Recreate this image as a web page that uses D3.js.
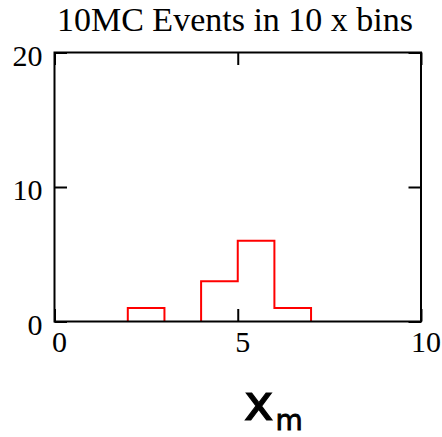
<!DOCTYPE html>
<html>
<head>
<meta charset="utf-8">
<script src="https://cdn.jsdelivr.net/npm/d3@7"></script>
<style>
  html, body { margin: 0; padding: 0; background: #fff; }
  svg { display: block; }
</style>
</head>
<body>
<script>
// Histogram of 10 Monte Carlo events in 10 unit-wide x bins
const binEdges = [0, 1, 2, 3, 4, 5, 6, 7, 8, 9, 10];
const binCounts = [0, 0, 1, 0, 3, 6, 1, 0, 0, 0];
const xTicks = [0, 5, 10];
const yTicks = [0, 10, 20];
const titleText = "10MC Events in 10 x bins";

const W = 442, H = 437;
const plotLeft = 54.5, plotRight = 421, plotTop = 52.5, plotBottom = 321.5;

const svg = d3.select("body").append("svg")
  .attr("width", W).attr("height", H);

const x = d3.scaleLinear().domain([0, 10]).range([plotLeft, plotRight]);
const y = d3.scaleLinear().domain([0, 20]).range([plotBottom, plotTop]);

const serif = "'Liberation Serif', 'Times New Roman', serif";
const tickLen = 12.5;

// Title
svg.append("text")
  .attr("x", 235)
  .attr("y", 31)
  .attr("text-anchor", "middle")
  .attr("font-family", serif)
  .attr("font-size", 34)
  .attr("fill", "#000")
  .text(titleText);

// Step outline: each run of non-empty bins is drawn as its own staircase down to the baseline
const runs = [];
let current = null;
binCounts.forEach((c, i) => {
  if (c > 0) {
    if (!current) { current = [[binEdges[i], 0]]; runs.push(current); }
    current.push([binEdges[i], c], [binEdges[i + 1], c]);
    if (!(binCounts[i + 1] > 0)) { current.push([binEdges[i + 1], 0]); current = null; }
  }
});
const line = d3.line().x(d => x(d[0])).y(d => y(d[1]));
svg.append("g").selectAll("path").data(runs).join("path")
  .attr("d", line)
  .attr("fill", "none")
  .attr("stroke", "#ff0000")
  .attr("stroke-width", 2);

// Axes with inward ticks on all four sides
function styleAxis(g) {
  g.select(".domain").remove();
  g.selectAll(".tick line").attr("stroke", "#000").attr("stroke-width", 2);
}

svg.append("g")
  .attr("transform", `translate(0,${plotBottom})`)
  .call(d3.axisBottom(x).tickValues(xTicks).tickSize(-tickLen).tickFormat(d3.format("d")))
  .call(styleAxis)
  .call(g => g.selectAll(".tick text")
    .attr("font-family", serif).attr("font-size", 30).attr("fill", "#000")
    .attr("y", 30).attr("dy", null).attr("dx", 4.5));

svg.append("g")
  .attr("transform", `translate(0,${plotTop})`)
  .call(d3.axisTop(x).tickValues(xTicks).tickSize(-tickLen).tickFormat(""))
  .call(styleAxis);

svg.append("g")
  .attr("transform", `translate(${plotLeft},0)`)
  .call(d3.axisLeft(y).tickValues(yTicks).tickSize(-tickLen).tickFormat(d3.format("d")))
  .call(styleAxis)
  .call(g => g.selectAll(".tick text")
    .attr("font-family", serif).attr("font-size", 30).attr("fill", "#000")
    .attr("x", -12).attr("y", 12.5).attr("dy", null));

svg.append("g")
  .attr("transform", `translate(${plotRight},0)`)
  .call(d3.axisRight(y).tickValues(yTicks).tickSize(-tickLen).tickFormat(""))
  .call(styleAxis);

// Plot frame
svg.append("rect")
  .attr("x", plotLeft).attr("y", plotTop)
  .attr("width", plotRight - plotLeft).attr("height", plotBottom - plotTop)
  .attr("fill", "none")
  .attr("stroke", "#000")
  .attr("stroke-width", 2);

// X-axis title with subscript
const xl = svg.append("text")
  .attr("x", 244)
  .attr("y", 420)
  .attr("font-family", "'DejaVu Sans', sans-serif")
  .attr("fill", "#000")
  .attr("stroke", "#000")
  .attr("stroke-width", 1.2);
xl.append("tspan").attr("font-size", 50).text("x");
xl.append("tspan").attr("font-size", 28).attr("dy", 10).attr("dx", 2).attr("stroke-width", 0.8).text("m");
</script>
</body>
</html>
